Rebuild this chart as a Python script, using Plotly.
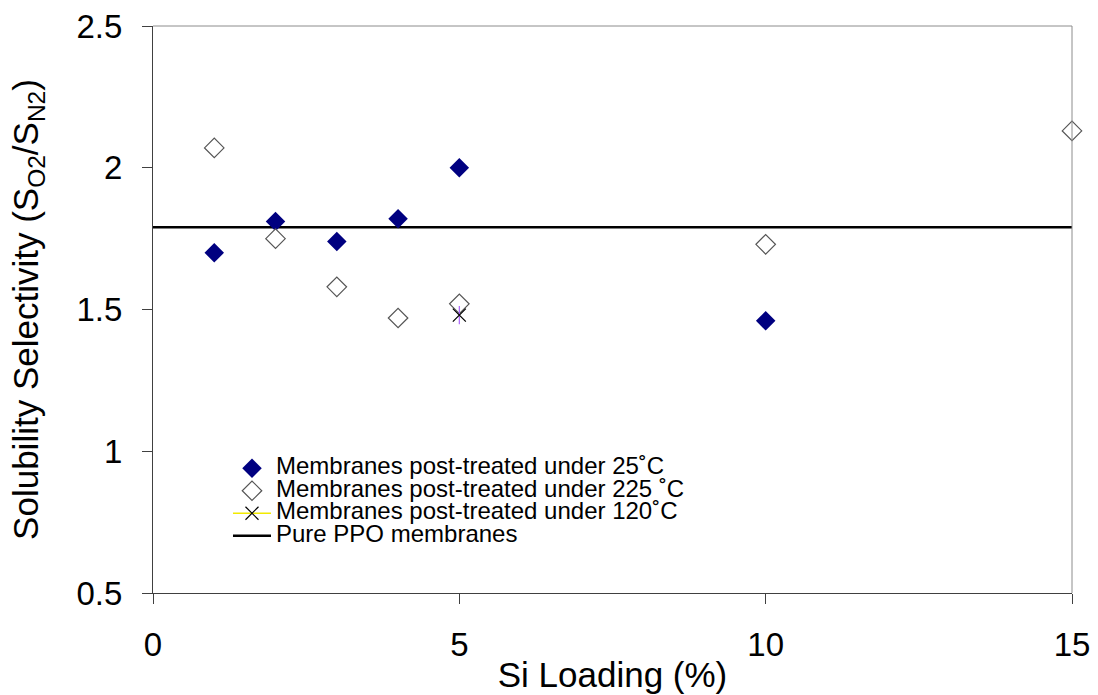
import plotly.graph_objects as go

# Si loading (%) and solubility selectivity S(O2)/S(N2)
loading_25 = [1, 2, 3, 4, 5, 10]
selectivity_25 = [1.70, 1.81, 1.74, 1.82, 2.00, 1.46]

loading_225 = [1, 2, 3, 4, 5, 10, 15]
selectivity_225 = [2.07, 1.75, 1.58, 1.47, 1.52, 1.73, 2.13]

loading_120 = [5]
selectivity_120 = [1.48]

ppo_loading = [0, 15]
ppo_selectivity = [1.79, 1.79]

x_ticks = [0, 5, 10, 15]
y_ticks = [0.5, 1, 1.5, 2, 2.5]
y_tick_text = ["0.5", "1", "1.5", "2", "2.5"]

FONT = "Liberation Sans, Arial, sans-serif"
AXIS_COLOR = "#404040"
FRAME_COLOR = "#8c8c8c"


def legend_label(text):
    return f'<span style="font-size:24px">{text}</span>'


fig = go.Figure()

# reference line for the unfilled polymer
fig.add_trace(go.Scatter(
    x=ppo_loading, y=ppo_selectivity, mode="lines",
    line=dict(color="black", width=2.5),
    name=legend_label("Pure PPO membranes"), legendrank=4,
))

fig.add_trace(go.Scatter(
    x=loading_25, y=selectivity_25, mode="markers",
    marker=dict(symbol="diamond", size=15, color="#000080",
                line=dict(width=0)),
    cliponaxis=False,
    name=legend_label("Membranes post-treated under 25˚C"), legendrank=1,
))

fig.add_trace(go.Scatter(
    x=loading_225, y=selectivity_225, mode="markers",
    marker=dict(symbol="diamond", size=15, color="white",
                line=dict(color="#555555", width=1.2)),
    cliponaxis=False,
    name=legend_label("Membranes post-treated under 225 ˚C"), legendrank=2,
))

# six-armed star: a vertical stroke laid over a thin cross
fig.add_trace(go.Scatter(
    x=loading_120, y=selectivity_120, mode="markers",
    marker=dict(symbol="line-ns-open", size=13,
                line=dict(color="black", width=1.2)),
    cliponaxis=False, showlegend=False, hoverinfo="skip",
))
fig.add_trace(go.Scatter(
    x=loading_120, y=selectivity_120, mode="lines+markers",
    line=dict(color="#f2ea00", width=1.6),
    marker=dict(symbol="x-thin-open", size=13, color="black",
                line=dict(color="black", width=1.2)),
    cliponaxis=False,
    name=legend_label("Membranes post-treated under 120˚C"), legendrank=3,
))

fig.update_layout(
    width=1098, height=695,
    margin=dict(l=153, r=26, t=26, b=102),
    paper_bgcolor="white", plot_bgcolor="white",
    font=dict(family=FONT, color="black"),
    showlegend=True,
    legend=dict(
        x=0.0816, y=0.2487, xanchor="left", yanchor="top",
        bgcolor="rgba(0,0,0,0)", borderwidth=0, itemwidth=38,
        font=dict(family=FONT, size=15, color="black"),
        traceorder="normal",
    ),
    xaxis=dict(
        range=[0, 15], tickvals=x_ticks, ticks="outside", ticklen=10,
        tickcolor=AXIS_COLOR, tickwidth=1, automargin=False,
        showline=True, linecolor=AXIS_COLOR, linewidth=1,
        showgrid=False, zeroline=False,
        tickfont=dict(family=FONT, size=33), ticklabelstandoff=12,
        title=dict(text="Si Loading (%)", font=dict(family=FONT, size=35),
                   standoff=0),
    ),
    xaxis2=dict(
        overlaying="x", anchor="y", side="bottom",
        range=[0, 15], tickvals=x_ticks, ticks="inside", ticklen=10,
        tickcolor=AXIS_COLOR, tickwidth=1, automargin=False,
        showticklabels=False, showline=False, showgrid=False, zeroline=False,
    ),
    yaxis=dict(
        range=[0.5, 2.5], tickvals=y_ticks, ticktext=y_tick_text,
        ticks="outside", ticklen=10, tickcolor=AXIS_COLOR, tickwidth=1,
        automargin=False,
        showline=True, linecolor=AXIS_COLOR, linewidth=1,
        showgrid=False, zeroline=False,
        tickfont=dict(family=FONT, size=33), ticklabelstandoff=13,
        title=dict(text="Solubility Selectivity (S<sub>O2</sub>/S<sub>N2</sub>)",
                   font=dict(family=FONT, size=35), standoff=27),
    ),
    shapes=[
        dict(type="line", xref="paper", yref="paper", x0=0, x1=1, y0=1, y1=1,
             line=dict(color=FRAME_COLOR, width=1)),
        dict(type="line", xref="paper", yref="paper", x0=1, x1=1, y0=0, y1=1,
             line=dict(color=FRAME_COLOR, width=1)),
    ],
)

fig.write_html("out.html")
